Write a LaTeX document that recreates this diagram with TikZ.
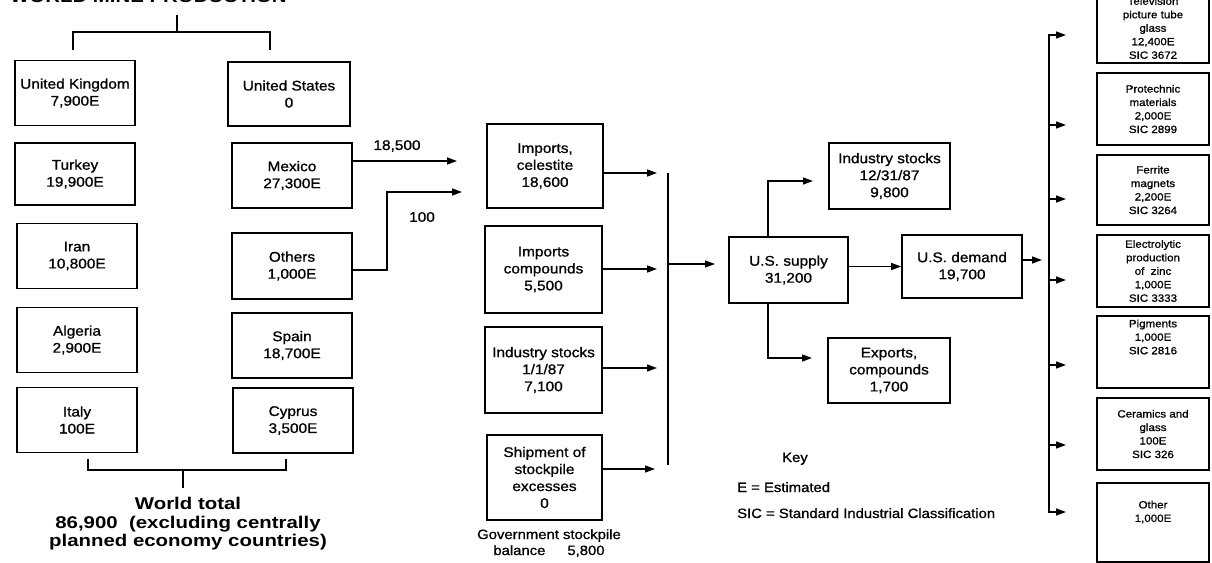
\documentclass[tikz,border=0pt]{standalone}
\usepackage{fontspec}
\setmainfont{Liberation Sans}[FakeStretch=1.1,FakeBold=0.9]
\newfontfamily\widefont{Liberation Sans}[FakeStretch=1.2]
\usetikzlibrary{arrows.meta}
\begin{document}
\begin{tikzpicture}[x=1pt,y=-1pt,
  box/.style={draw, line width=1.6pt, align=center, inner sep=0pt, font=\fontsize{14}{17}\selectfont},
  lbox/.style={box, minimum width=120pt, minimum height=65pt},
  mbox/.style={box, minimum width=117pt, minimum height=86pt},
  rbox/.style={box, minimum width=112pt, font=\fontsize{10.5}{13.5}\selectfont},
  rtxt/.style={align=center, inner sep=0pt, font=\fontsize{10.5}{13.5}\selectfont},
  conn/.style={line width=1.4pt},
  arr/.style={conn, -{Triangle[length=10pt,width=7pt]}},
  lbl/.style={inner sep=0pt, font=\fontsize{14}{17}\selectfont},
  keytxt/.style={inner sep=0pt, anchor=base west, font=\fontsize{13.5}{16}\selectfont},
  big/.style={inner sep=0pt, align=center, font=\widefont\bfseries\fontsize{17}{18.5}\selectfont}
]
\useasboundingbox (0,0) rectangle (1212,562);

% title (cut off at the top edge, as in the reference)
\node[big, anchor=base west] (title) at (10,2.5) {WORLD MINE PRODUCTION};

% left columns
\node[lbox] (uk) at (75,93) {United Kingdom\\7,900E};
\node[lbox, minimum height=62pt] (turkey) at (75,174) {Turkey\\19,900E};
\node[lbox] (iran) at (77,256) {Iran\\10,800E};
\node[lbox] (algeria) at (77,340) {Algeria\\2,900E};
\node[lbox] (italy) at (77,420) {Italy\\100E};

\node[lbox, minimum width=122pt, minimum height=64pt] (us) at (289,94) {United States\\0};
\node[lbox] (mexico) at (292,175.5) {Mexico\\27,300E};
\node[lbox, minimum height=66pt] (others) at (292,266) {Others\\1,000E};
\node[lbox] (spain) at (292,345.5) {Spain\\18,700E};
\node[lbox] (cyprus) at (293,420.5) {Cyprus\\3,500E};

% brackets
\coordinate (tstem) at (177,15);
\coordinate (tbar) at (177,32);
\coordinate (tl) at (73,50);
\coordinate (tr) at (270,50);
\draw[conn] (tstem) -- (tbar);
\draw[conn] (tl) |- (tbar) -| (tr);

\coordinate (bl) at (88,459);
\coordinate (br) at (286,459);
\coordinate (bbar) at (183,470);
\coordinate (bstem) at (183,488);
\draw[conn] (bl) |- (bbar) -| (br);
\draw[conn] (bbar) -- (bstem);

\node[big] (world) at (188,524) {World total\\86,900\ \ (excluding centrally\\planned economy countries)};

% imports flows
\coordinate (mxa) at (457,161);
\draw[arr] (mxa -| mexico.east) -- (mxa);
\node[lbl] (l18500) at (397,146) {18,500};
\coordinate (otb) at (387,270);
\coordinate (ota) at (462,192);
\draw[arr] (otb -| others.east) -- (otb) |- (ota);
\node[lbl] (l100) at (422,217) {100};

% middle column
\node[mbox, minimum width=116pt, minimum height=84pt] (cel) at (545,166) {Imports,\\celestite\\18,600};
\node[mbox, minimum height=87pt] (comp) at (543.5,269.5) {Imports\\compounds\\5,500};
\node[mbox] (ist) at (543.5,370) {Industry stocks\\1/1/87\\7,100};
\node[mbox, minimum width=115pt, minimum height=85pt] (ship) at (544.5,477.5) {Shipment of\\stockpile\\excesses\\0};
\node[keytxt, anchor=center, align=center] (gov) at (549,543) {Government stockpile\\balance\hspace{22pt}5,800};

\coordinate (c1) at (657,173);
\coordinate (c2) at (657,269);
\coordinate (c3) at (657,368);
\coordinate (c4) at (655,469);
\draw[arr] (c1 -| cel.east) -- (c1);
\draw[arr] (c2 -| comp.east) -- (c2);
\draw[arr] (c3 -| ist.east) -- (c3);
\draw[arr] (c4 -| ship.east) -- (c4);

\coordinate (vt) at (668,173);
\coordinate (vb) at (668,465);
\draw[conn] (vt) -- (vb);

% supply
\node[box, minimum width=119pt, minimum height=66pt] (supply) at (788.5,270) {U.S. supply\\31,200};
\node[box, minimum width=120pt, minimum height=63pt] (demand) at (962,266.5) {U.S. demand\\19,700};
\node[box, minimum width=121pt, minimum height=66pt] (stk87) at (889.5,176) {Industry stocks\\12/31/87\\9,800};
\node[box, minimum width=122pt, minimum height=65pt] (exports) at (889,370.5) {Exports,\\compounds\\1,700};

\coordinate (vin) at (668,264);
\coordinate (vinend) at (715,264);
\draw[arr] (vin) -- (vinend);
\draw[arr] (supply.east |- demand.west) -- (demand.west);
\coordinate (sx) at (768,0);
\coordinate (s87) at (813,181);
\coordinate (sexp) at (812,358);
\draw[arr] (sx |- supply.north) |- (s87);
\draw[arr] (sx |- supply.south) |- (sexp);

% key
\node[keytxt] (key) at (782,462) {Key};
\node[keytxt] (keye) at (737,492) {E = Estimated};
\node[keytxt] (keysic) at (737,518) {SIC = Standard Industrial Classification};

% demand distribution
\coordinate (dr) at (1042,260);
\draw[arr] (dr -| demand.east) -- (dr);

\node[rbox, minimum height=70pt] (tv) at (1153,28) {Television\\picture tube\\glass\\12,400E\\SIC 3672};
\node[rbox, minimum height=72pt] (pyro) at (1153,109) {Protechnic\\materials\\2,000E\\SIC 2899};
\node[rbox, minimum height=70pt] (ferr) at (1153,190) {Ferrite\\magnets\\2,200E\\SIC 3264};
\node[rbox, minimum height=72pt] (elec) at (1153,271) {Electrolytic\\production\\of\ \ zinc\\1,000E\\SIC 3333};
\node[rbox, minimum height=72pt] (pig) at (1153,352) {};
\node[rtxt] (pigt) at (1153,337) {Pigments\\1,000E\\SIC 2816};
\node[rbox, minimum height=72pt] (cer) at (1153,434) {Ceramics and\\glass\\100E\\SIC 326};
\node[rbox, minimum height=79pt] (oth) at (1153,522.5) {};
\node[rtxt] (otht) at (1153,512) {Other\\1,000E};

\coordinate (rx) at (1049,0);
\coordinate (r1) at (1066,35);
\coordinate (r2) at (1066,125);
\coordinate (r3) at (1066,199);
\coordinate (r4) at (1066,280);
\coordinate (r5) at (1066,365);
\coordinate (r6) at (1066,445);
\coordinate (r7) at (1066,512);
\draw[arr] (rx |- r6) -- (rx |- r1) -- (r1);
\draw[arr] (rx |- r2) -- (r2);
\draw[arr] (rx |- r3) -- (r3);
\draw[arr] (rx |- r4) -- (r4);
\draw[arr] (rx |- r5) -- (r5);
\draw[arr] (rx |- r6) -- (rx |- r7) -- (r7);
\draw[arr] (rx |- r6) -- (r6);
\end{tikzpicture}
\end{document}
